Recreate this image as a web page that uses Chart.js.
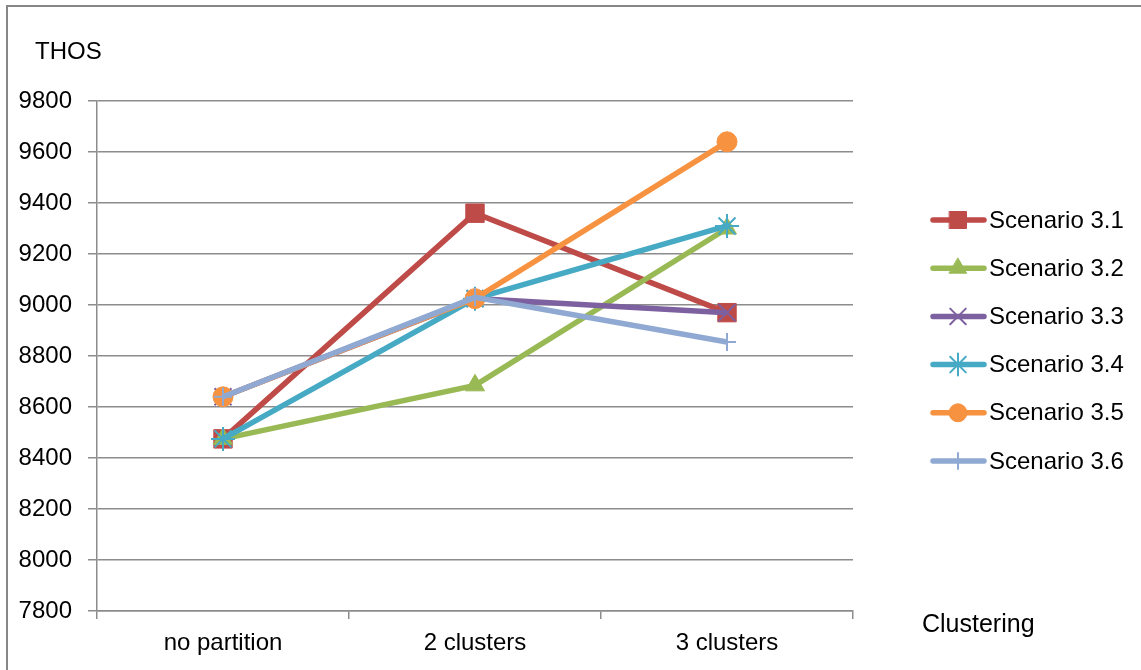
<!DOCTYPE html>
<html lang="en">
<head>
<meta charset="UTF-8">
<title>THOS by clustering</title>
<script src="https://cdn.jsdelivr.net/npm/chart.js"></script>
<style>
  body { margin: 0; background: #fff; }
</style>
</head>
<body>
<canvas id="thosChart" width="1141" height="670"></canvas>
<script>
// data
const categories = ['no partition', '2 clusters', '3 clusters'];
const seriesNames = ['Scenario 3.1', 'Scenario 3.2', 'Scenario 3.3', 'Scenario 3.4', 'Scenario 3.5', 'Scenario 3.6'];
const scenario31 = [8475, 9360, 8970];
const scenario32 = [8475, 8685, 9300];
const scenario33 = [8640, 9025, 8970];
const scenario34 = [8475, 9025, 9310];
const scenario35 = [8640, 9025, 9640];
const scenario36 = [8640, 9030, 8855];
const yMin = 7800, yMax = 9800, yStep = 200;

// look
const colors = ['#BE4B48', '#98B954', '#7D60A0', '#46AAC5', '#F69240', '#8FA9D2'];
const markers = ['rect', 'triangle', 'crossRot', 'star', 'circle', 'cross'];
const markerSize = [13, 11, 12, 12, 10, 9];
const font = "'Liberation Sans', Arial, sans-serif";
const gridGray = '#8c8c8c';

const values = [scenario31, scenario32, scenario33, scenario34, scenario35, scenario36];

const datasets = values.map((v, i) => ({
    label: seriesNames[i],
    data: v,
    borderColor: colors[i],
    backgroundColor: colors[i],
    borderWidth: 5.5,
    tension: 0,
    pointStyle: markers[i],
    pointRadius: markerSize[i],
    pointHoverRadius: markerSize[i],
    pointBorderWidth: (markers[i] === 'rect' || markers[i] === 'triangle' || markers[i] === 'circle') ? 1 : 2,
    order: values.length - i   // later series on top, like Excel
}));

// frame, axis titles and the legend with line + marker
const extras = {
    id: 'extras',
    beforeDraw(chart) {
        const c = chart.ctx;
        c.save();
        c.fillStyle = '#fff';
        c.fillRect(0, 0, chart.width, chart.height);
        c.strokeStyle = '#878787';
        c.lineWidth = 2;
        c.beginPath();
        c.moveTo(7, chart.height);
        c.lineTo(7, 6);
        c.lineTo(chart.width, 6);
        c.stroke();
        c.restore();
    },
    afterDraw(chart) {
        const c = chart.ctx;
        c.save();
        c.fillStyle = '#000';
        c.font = '24px ' + font;
        c.textBaseline = 'middle';
        c.textAlign = 'left';
        c.fillText('THOS', 35, 52);
        c.font = '25px ' + font;
        c.fillText('Clustering', 922, 625);
        c.font = '24px ' + font;

        chart.data.datasets.forEach((ds, i) => {
            const y = 220 + i * 48.2;
            c.strokeStyle = ds.borderColor;
            c.lineWidth = 5.5;
            c.lineCap = 'round';
            c.beginPath();
            c.moveTo(933, y);
            c.lineTo(984, y);
            c.stroke();
            c.fillStyle = ds.backgroundColor;
            c.lineWidth = ds.pointBorderWidth;
            Chart.helpers.drawPoint(c, {
                pointStyle: ds.pointStyle,
                radius: ds.pointRadius - 1,
                rotation: 0,
                borderWidth: ds.pointBorderWidth
            }, 958, y);
            c.fillStyle = '#000';
            c.fillText(ds.label, 989, y + 1);
        });
        c.restore();
    }
};

new Chart(document.getElementById('thosChart'), {
    type: 'line',
    data: { labels: categories, datasets: datasets },
    options: {
        responsive: false,
        animation: false,
        layout: { padding: { top: 101, left: 0, right: 288, bottom: 0 } },
        plugins: {
            legend: { display: false },
            tooltip: { enabled: false }
        },
        scales: {
            x: {
                offset: true,
                grid: {
                    offset: true,
                    drawOnChartArea: false,
                    drawTicks: true,
                    tickLength: 8,
                    color: gridGray,
                    lineWidth: 1.5
                },
                border: { color: gridGray, width: 1.5 },
                ticks: { color: '#000', padding: 10, font: { family: font, size: 24 }, maxRotation: 0 },
                afterFit(scale) { scale.height = 59; }
            },
            y: {
                min: yMin,
                max: yMax,
                ticks: {
                    stepSize: yStep,
                    color: '#000',
                    padding: 16,
                    font: { family: font, size: 24 },
                    callback: (v) => String(v)
                },
                grid: { color: gridGray, lineWidth: 1.5, tickLength: 9 },
                border: { color: gridGray, width: 1.5 },
                afterFit(scale) { scale.width = 97; }
            }
        }
    },
    plugins: [extras]
});
</script>
</body>
</html>
